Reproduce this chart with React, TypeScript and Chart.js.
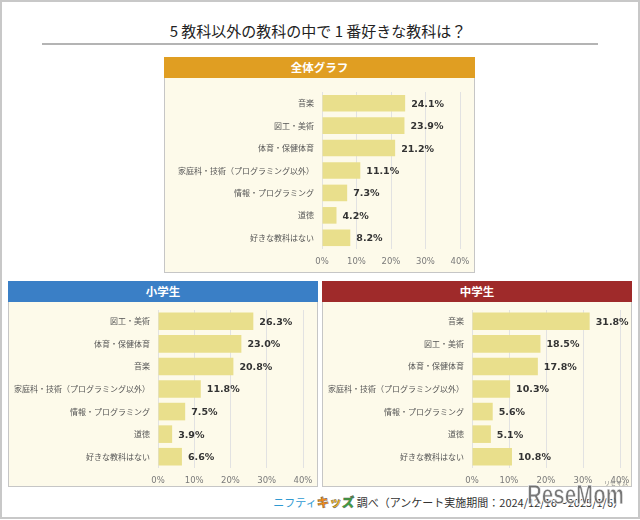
import React, { useEffect, useRef } from "react";
import { Chart, registerables } from "chart.js";

Chart.register(...registerables);

const titleText = "5 教科以外の教科の中で 1 番好きな教科は？";

const overallCategories = ["音楽", "図工・美術", "体育・保健体育", "家庭科・技術（プログラミング以外）", "情報・プログラミング", "道徳", "好きな教科はない"];
const overallValues = [24.1, 23.9, 21.2, 11.1, 7.3, 4.2, 8.2];

const elementaryCategories = ["図工・美術", "体育・保健体育", "音楽", "家庭科・技術（プログラミング以外）", "情報・プログラミング", "道徳", "好きな教科はない"];
const elementaryValues = [26.3, 23.0, 20.8, 11.8, 7.5, 3.9, 6.6];

const juniorCategories = ["音楽", "図工・美術", "体育・保健体育", "家庭科・技術（プログラミング以外）", "情報・プログラミング", "道徳", "好きな教科はない"];
const juniorValues = [31.8, 18.5, 17.8, 10.3, 5.6, 5.1, 10.8];

const xTickValues = [0, 10, 20, 30, 40];

const JP = '"Noto Sans CJK JP", "Noto Sans", sans-serif';

const valueLabelPlugin = {
  id: "valueLabels",
  afterDatasetsDraw(chart: any) {
    const ctx = chart.ctx;
    const meta = chart.getDatasetMeta(0);
    const data = chart.data.datasets[0].data as number[];
    ctx.save();
    ctx.font = 'bold 9.5px "DejaVu Sans", sans-serif';
    ctx.fillStyle = "#333333";
    ctx.textAlign = "left";
    ctx.textBaseline = "middle";
    meta.data.forEach((bar: any, i: number) => {
      ctx.fillText(data[i].toFixed(1) + "%", bar.x + 6, bar.y + 1);
    });
    ctx.restore();
  },
};

type BarProps = {
  labels: string[];
  values: number[];
  width: number;
  height: number;
  yW: number;
  xH: number;
  padTop: number;
  padRight: number;
  barPct: number;
};

function BarChart(p: BarProps) {
  const ref = useRef<HTMLCanvasElement | null>(null);
  useEffect(() => {
    if (!ref.current) return;
    const chart = new Chart(ref.current, {
      type: "bar",
      data: {
        labels: p.labels,
        datasets: [
          {
            data: p.values,
            backgroundColor: "#E9DF8C",
            borderWidth: 0,
            categoryPercentage: 1,
            barPercentage: p.barPct,
          },
        ],
      },
      options: {
        indexAxis: "y",
        animation: false,
        responsive: false,
        maintainAspectRatio: false,
        layout: { padding: { top: p.padTop, right: p.padRight, left: 0, bottom: 0 } },
        plugins: { legend: { display: false }, tooltip: { enabled: false }, title: { display: false } },
        scales: {
          x: {
            min: 0,
            max: 40,
            afterBuildTicks: (s: any) => {
              s.ticks = xTickValues.map((v) => ({ value: v }));
            },
            afterFit: (s: any) => {
              s.height = p.xH;
              s.paddingLeft = 0;
              s.paddingRight = 0;
            },
            ticks: {
              callback: (v: any) => v + "%",
              color: "#7a7a7a",
              font: { family: '"DejaVu Sans", sans-serif', size: 8.5 },
              padding: 8,
              maxRotation: 0,
            },
            grid: { color: "#E2E2E2", lineWidth: 1, drawTicks: false },
            border: { display: false },
          },
          y: {
            afterFit: (s: any) => {
              s.width = p.yW;
              s.paddingTop = 0;
              s.paddingBottom = 0;
            },
            ticks: {
              color: "#555555",
              font: { family: JP, size: 8 },
              padding: 8,
              autoSkip: false,
            },
            grid: { display: false, drawTicks: false },
            border: { display: false },
          },
        },
      },
      plugins: [valueLabelPlugin],
    } as any);
    return () => chart.destroy();
  }, []);
  return <canvas ref={ref} width={p.width} height={p.height} style={{ display: "block", width: p.width, height: p.height }} />;
}

type PanelProps = {
  left: number;
  top: number;
  width: number;
  height: number;
  title: string;
  color: string;
  children: any;
};

function Panel(p: PanelProps) {
  return (
    <div
      style={{
        position: "absolute",
        left: p.left,
        top: p.top,
        width: p.width,
        height: p.height,
        boxSizing: "border-box",
        border: "1px solid #C6C6C6",
        background: "#FDFAEA",
      }}
    >
      <div
        style={{
          height: 21,
          background: p.color,
          color: "#fff",
          fontFamily: JP,
          fontWeight: 700,
          fontSize: 11.5,
          lineHeight: "21px",
          textAlign: "center",
          marginTop: -1,
          marginLeft: -1,
          marginRight: -1,
        }}
      >
        {p.title}
      </div>
      {p.children}
    </div>
  );
}

export default function App() {
  return (
    <div
      style={{
        position: "absolute",
        left: 0,
        top: 0,
        width: 640,
        height: 520,
        background: "#fff",
        overflow: "hidden",
      }}
    >
      <div
        style={{
          position: "absolute",
          left: 0,
          top: 0,
          width: 640,
          height: 519,
          boxSizing: "border-box",
          border: "2px solid #C8C8C8",
        }}
      />
      <div
        style={{
          position: "absolute",
          left: 0,
          width: 636,
          top: 20,
          textAlign: "center",
          fontFamily: JP,
          fontSize: 15,
          lineHeight: "22px",
          color: "#222",
        }}
      >
        {titleText}
      </div>
      <div style={{ position: "absolute", left: 42, top: 43, width: 556, height: 2, background: "#B4B4B4" }} />

      <Panel left={164} top={57} width={311} height={216} title="全体グラフ" color="#E09E22">
        <BarChart labels={overallCategories} values={overallValues} width={309} height={193} yW={157} xH={22} padTop={14} padRight={14} barPct={0.74} />
      </Panel>

      <Panel left={8} top={281} width={310} height={206} title="小学生" color="#3A7FC6">
        <BarChart labels={elementaryCategories} values={elementaryValues} width={308} height={183} yW={149} xH={17} padTop={8} padRight={14} barPct={0.78} />
      </Panel>

      <Panel left={322} top={281} width={310} height={206} title="中学生" color="#9F2A2A">
        <BarChart labels={juniorCategories} values={juniorValues} width={308} height={183} yW={149} xH={17} padTop={8} padRight={11} barPct={0.78} />
      </Panel>

      <div
        style={{
          position: "absolute",
          right: 16,
          top: 493,
          fontFamily: JP,
          fontSize: 11,
          lineHeight: "18px",
          color: "#333",
          whiteSpace: "nowrap",
        }}
      >
        <span style={{ color: "#2F9AD2" }}>ニフティ</span>
        <span style={{ fontWeight: 900, fontSize: 12.5, WebkitTextStroke: "0.4px #555" }}>
          <span style={{ color: "#F08C1A" }}>キ</span>
          <span style={{ color: "#F4B41E" }}>ッ</span>
          <span style={{ color: "#3DA33C" }}>ズ</span>
        </span>
        <span> 調べ（アンケート実施期間：2024/12/16～2025/1/6）</span>
      </div>
      <div
        style={{
          position: "absolute",
          left: 527,
          top: 480,
          fontFamily: '"Liberation Sans", Arial, sans-serif',
          fontWeight: 700,
          fontSize: 27,
          lineHeight: "30px",
          color: "rgba(100,100,100,0.88)",
          WebkitTextStroke: "1px rgba(255,255,255,0.85)",
          transform: "scaleX(0.76)",
          transformOrigin: "left top",
          whiteSpace: "nowrap",
        }}
      >
        ReseMom
      </div>
      <div
        style={{
          position: "absolute",
          left: 604,
          top: 479,
          fontFamily: JP,
          fontSize: 6,
          lineHeight: "8px",
          color: "#888",
          whiteSpace: "nowrap",
        }}
      >
        リセマム
      </div>
    </div>
  );
}
